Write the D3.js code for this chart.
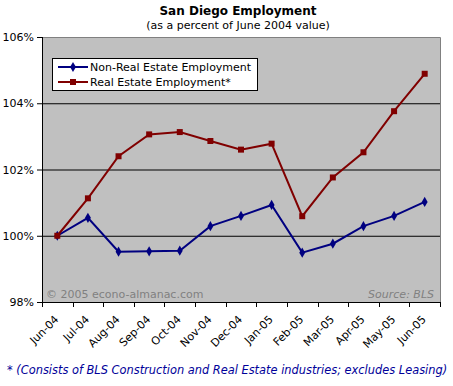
<!DOCTYPE html>
<html>
<head>
<meta charset="utf-8">
<script src="https://cdn.jsdelivr.net/npm/d3@7"></script>
<style>
  body { margin: 0; background: #fff; }
  svg text { font-family: "DejaVu Sans", Verdana, sans-serif; }
</style>
</head>
<body>
<div id="chart"></div>
<script>
// chart data
const months = ['Jun-04', 'Jul-04', 'Aug-04', 'Sep-04', 'Oct-04', 'Nov-04', 'Dec-04',
  'Jan-05', 'Feb-05', 'Mar-05', 'Apr-05', 'May-05', 'Jun-05'];
const nonRealEstate = [100, 100.54, 99.52, 99.53, 99.55, 100.29, 100.6, 100.93, 99.49, 99.76, 100.29, 100.6, 101.02];
const realEstate = [100, 101.13, 102.4, 103.06, 103.13, 102.86, 102.6, 102.78, 100.59, 101.76, 102.52, 103.76, 104.89];
const yTicks = [98, 100, 102, 104, 106];

const W = 453, H = 386;
let margin = { top: 37, left: 42, right: 13, bottom: 84 },
  width = W - margin.left - margin.right,
  height = H - margin.top - margin.bottom;

let svg = d3.select('#chart').append('svg')
  .attr('width', W).attr('height', H);

const chart = svg.append('g').attr('transform', `translate(${margin.left}, ${margin.top})`);

const xScale = d3.scaleBand().range([0, width]).domain(months);
const yScale = d3.scaleLinear().range([height, 0]).domain([98, 106]);
const xPos = (m) => xScale(m) + xScale.bandwidth() / 2;

// plot background
chart.append('rect')
  .attr('width', width).attr('height', height)
  .attr('fill', '#c0c0c0');

// gridlines
chart.append('g')
  .call(d3.axisLeft(yScale).tickValues(yTicks.slice(1, -1)).tickSize(-width).tickFormat(''))
  .call((g) => g.select('.domain').remove())
  .selectAll('line').attr('stroke', '#000');

// top and right border
chart.append('path')
  .attr('d', `M0,0.5H${width + 0.5}V${height}`)
  .attr('fill', 'none')
  .attr('stroke', '#808080');

// y axis
const yAxis = chart.append('g')
  .call(d3.axisLeft(yScale).tickValues(yTicks).tickSize(5).tickPadding(3).tickFormat((d) => d + '%'));
yAxis.select('.domain').attr('d', `M0.5,0V${height}`).attr('stroke', '#000');
yAxis.selectAll('text').style('font-size', '11px').attr('fill', '#000');

// x axis (ticks at category boundaries)
const xAxis = chart.append('g').attr('transform', `translate(0, ${height})`);
xAxis.append('line')
  .attr('x1', 0).attr('x2', width + 1).attr('y1', 0.5).attr('y2', 0.5)
  .attr('stroke', '#000');
xAxis.selectAll('.tk')
  .data(months.concat(['end']))
  .enter()
  .append('line')
  .attr('x1', (d, i) => Math.round(i * xScale.step()) + 0.5)
  .attr('x2', (d, i) => Math.round(i * xScale.step()) + 0.5)
  .attr('y1', 0).attr('y2', 5)
  .attr('stroke', '#000');
xAxis.selectAll('.lbl')
  .data(months)
  .enter()
  .append('text')
  .attr('text-anchor', 'end')
  .attr('transform', (d) => `translate(${xPos(d) + 2}, 18) rotate(-45)`)
  .style('font-size', '11px')
  .text((d) => d);

// watermark texts
chart.append('text')
  .attr('x', 4).attr('y', height - 4)
  .attr('fill', '#808080')
  .style('font-size', '11px')
  .text('© 2005 econo-almanac.com');
chart.append('text')
  .attr('x', width - 6).attr('y', height - 4)
  .attr('text-anchor', 'end')
  .attr('fill', '#808080')
  .style('font-size', '11px')
  .style('font-style', 'italic')
  .text('Source: BLS');

// lines
const series = [
  { name: 'Non-Real Estate Employment', values: nonRealEstate, color: '#000080', marker: 'diamond' },
  { name: 'Real Estate Employment*', values: realEstate, color: '#800000', marker: 'square' },
];

const line = d3.line()
  .x((d, i) => xPos(months[i]))
  .y((d) => yScale(d));

const diamond = d3.symbol().type(d3.symbolDiamond).size(30);
const square = d3.symbol().type(d3.symbolSquare).size(36);

series.forEach((s) => {
  chart.append('path')
    .datum(s.values)
    .attr('d', line)
    .attr('fill', 'none')
    .attr('stroke', s.color)
    .attr('stroke-width', 2);
  chart.selectAll(null)
    .data(s.values)
    .enter()
    .append('path')
    .attr('d', s.marker === 'diamond' ? diamond : square)
    .attr('transform', (d, i) => `translate(${xPos(months[i])}, ${yScale(d)})`)
    .attr('fill', s.color);
});

// legend
const legend = chart.append('g').attr('transform', 'translate(10, 21)');
legend.append('rect')
  .attr('x', 0.5).attr('y', 0.5)
  .attr('width', 205).attr('height', 32)
  .attr('fill', '#fff').attr('stroke', '#000');
series.forEach((s, i) => {
  const ly = 9 + i * 15;
  legend.append('line')
    .attr('x1', 6).attr('x2', 36).attr('y1', ly).attr('y2', ly)
    .attr('stroke', s.color).attr('stroke-width', 2);
  legend.append('path')
    .attr('d', s.marker === 'diamond' ? diamond : square)
    .attr('transform', `translate(21, ${ly})`)
    .attr('fill', s.color);
  legend.append('text')
    .attr('x', 38).attr('y', ly + 4)
    .style('font-size', '11px')
    .text(s.name);
});

// titles
svg.append('text')
  .attr('x', 238).attr('y', 15)
  .attr('text-anchor', 'middle')
  .style('font-size', '12px')
  .style('font-weight', 'bold')
  .text('San Diego Employment');
svg.append('text')
  .attr('x', 238).attr('y', 29)
  .attr('text-anchor', 'middle')
  .style('font-size', '11px')
  .text('(as a percent of June 2004 value)');

// footnote
svg.append('text')
  .attr('x', 7).attr('y', 374)
  .attr('fill', '#000099')
  .style('font-size', '11.4px')
  .style('font-style', 'italic')
  .text('* (Consists of BLS Construction and Real Estate industries; excludes Leasing)');
</script>
</body>
</html>
